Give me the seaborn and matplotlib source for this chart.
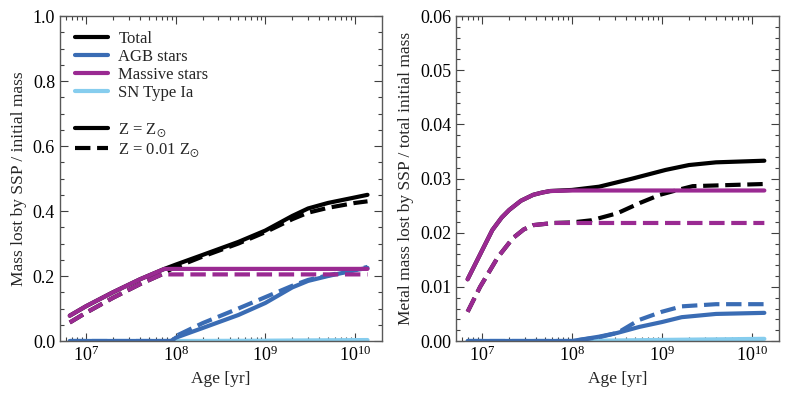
import numpy as np
import pandas as pd
import seaborn as sns
import matplotlib.pyplot as plt
from matplotlib.lines import Line2D
from matplotlib.ticker import MultipleLocator

# ---- left panel: total mass lost ----
m_age_sol = [6.6e6, 1e7, 2e7, 4e7, 7.5e7, 1e8, 1e9, 1.38e10]
m_val_sol = [0.078, 0.107, 0.15, 0.19, 0.222, 0.222, 0.222, 0.222]
m_age_low = [6.6e6, 1e7, 2e7, 4e7, 7e7, 1e8, 1e9, 1.38e10]
m_val_low = [0.057, 0.087, 0.133, 0.175, 0.205, 0.205, 0.205, 0.205]

t_age_sol = [6.6e6, 1e7, 2e7, 4e7, 7.5e7, 1e8, 2e8, 5e8, 1e9, 2e9, 3e9, 5e9, 1e10, 1.38e10]
t_val_sol = [0.078, 0.107, 0.15, 0.19, 0.222, 0.235, 0.265, 0.305, 0.34, 0.385, 0.408, 0.425, 0.442, 0.45]
t_age_low = [6.6e6, 1e7, 2e7, 4e7, 7e7, 9e7, 2e8, 5e8, 1e9, 2e9, 3e9, 5e9, 1e10, 1.38e10]
t_val_low = [0.057, 0.087, 0.133, 0.175, 0.205, 0.222, 0.26, 0.3, 0.335, 0.375, 0.395, 0.41, 0.425, 0.43]

a_age = [6.6e6, 9e7, 1e8, 2e8, 5e8, 1e9, 2e9, 3e9, 5e9, 1e10, 1.38e10]
a_val_sol = [0.0, 0.0, 0.01, 0.04, 0.08, 0.117, 0.165, 0.185, 0.2, 0.218, 0.225]
a_val_low = [0.0, 0.0, 0.015, 0.055, 0.1, 0.135, 0.17, 0.188, 0.202, 0.219, 0.228]

s_age = [6.6e6, 1e8, 1e9, 1.38e10]
s_val = [0.0, 0.0, 0.001, 0.003]

# ---- right panel: metal mass lost ----
zm_age_sol = [6.9e6, 1.3e7, 1.65e7, 2e7, 2.7e7, 3.7e7, 4.6e7, 5.7e7, 1e8, 1e9, 1.38e10]
zm_val_sol = [0.0114, 0.0205, 0.0228, 0.0242, 0.0259, 0.027, 0.0274, 0.0277, 0.0278, 0.0278, 0.0278]
zm_age_low = [6.9e6, 9.5e6, 1.5e7, 2.2e7, 2.9e7, 3.7e7, 6.3e7, 1e9, 1.38e10]
zm_val_low = [0.0054, 0.01, 0.0155, 0.019, 0.0206, 0.0214, 0.0218, 0.0218, 0.0218]

zt_age_sol = [6.9e6, 1.3e7, 1.65e7, 2e7, 2.7e7, 3.7e7, 4.6e7, 5.7e7, 1e8, 2e8, 4.7e8, 1.1e9, 2e9, 4e9, 1.38e10]
zt_val_sol = [0.0114, 0.0205, 0.0228, 0.0242, 0.0259, 0.027, 0.0274, 0.0277, 0.0279, 0.0285, 0.030, 0.0316, 0.0325, 0.033, 0.0333]
zt_age_low = [6.9e6, 9.5e6, 1.5e7, 2.2e7, 2.9e7, 3.7e7, 6.3e7, 1e8, 1.65e8, 3.2e8, 5.7e8, 9.5e8, 1.5e9, 2.2e9, 1.38e10]
zt_val_low = [0.0054, 0.01, 0.0155, 0.019, 0.0206, 0.0214, 0.0218, 0.0219, 0.0223, 0.0236, 0.0255, 0.027, 0.0279, 0.0286, 0.029]

za_age = [6.9e6, 1e8, 2e8, 3.2e8, 5.6e8, 1e9, 1.66e9, 4e9, 1.38e10]
za_val_sol = [0.0, 0.0, 0.0008, 0.0015, 0.0026, 0.0035, 0.0044, 0.005, 0.0052]
za_val_low = [0.0, 0.0, 0.0007, 0.0015, 0.0039, 0.0054, 0.0064, 0.0068, 0.0068]

zs_age = [6.9e6, 1e8, 1e9, 1.38e10]
zs_val = [0.0, 0.0, 0.0002, 0.0004]

c_total = 'black'
c_agb = '#3a6cb4'
c_mass = '#9a2a92'
c_snia = '#86cdee'

sns.set_style('ticks')
plt.rcParams['font.family'] = ['Liberation Serif', 'DejaVu Serif']
plt.rcParams['mathtext.fontset'] = 'stix'
plt.rcParams['xtick.direction'] = 'in'
plt.rcParams['ytick.direction'] = 'in'
plt.rcParams['xtick.top'] = True
plt.rcParams['ytick.right'] = True

fig = plt.figure(figsize=(7.89, 3.94), dpi=100)
ax1 = fig.add_axes([0.076, 0.1345, 0.408, 0.8245])
ax2 = fig.add_axes([0.578, 0.1345, 0.409, 0.8245])


def draw(ax, series):
    for age, val, col, ls in series:
        df = pd.DataFrame({'age': age, 'val': val})
        sns.lineplot(data=df, x='age', y='val', ax=ax, color=col, lw=3,
                     linestyle=ls, estimator=None, sort=False)


draw(ax1, [
    (s_age, s_val, c_snia, '-'),
    (t_age_sol, t_val_sol, c_total, '-'),
    (t_age_low, t_val_low, c_total, '--'),
    (a_age, a_val_low, c_agb, '--'),
    (a_age, a_val_sol, c_agb, '-'),
    (m_age_low, m_val_low, c_mass, '--'),
    (m_age_sol, m_val_sol, c_mass, '-'),
])
draw(ax2, [
    (zs_age, zs_val, c_snia, '-'),
    (zt_age_sol, zt_val_sol, c_total, '-'),
    (zt_age_low, zt_val_low, c_total, '--'),
    (za_age, za_val_low, c_agb, '--'),
    (za_age, za_val_sol, c_agb, '-'),
    (zm_age_low, zm_val_low, c_mass, '--'),
    (zm_age_sol, zm_val_sol, c_mass, '-'),
])

for ax in (ax1, ax2):
    ax.set_xscale('log')
    ax.set_xlim(10 ** 6.71, 10 ** 10.3)
    ax.set_xlabel('Age [yr]', fontsize=12.5)
    ax.tick_params(which='major', length=6, width=0.8, labelsize=13, colors='0.25', labelcolor='black')
    ax.tick_params(which='minor', length=3, width=0.8, colors='0.25')
    for sp in ax.spines.values():
        sp.set_color('0.35')
        sp.set_linewidth(1.0)

ax1.set_ylim(0, 1.0)
ax1.yaxis.set_major_locator(MultipleLocator(0.2))
ax1.yaxis.set_minor_locator(MultipleLocator(0.05))
ax1.set_ylabel('Mass lost by SSP / initial mass', fontsize=12.5)

ax2.set_ylim(0, 0.06)
ax2.yaxis.set_major_locator(MultipleLocator(0.01))
ax2.yaxis.set_minor_locator(MultipleLocator(0.002))
ax2.set_ylabel('Metal mass lost by SSP / total initial mass', fontsize=12.5)

handles = [
    Line2D([], [], color=c_total, lw=3),
    Line2D([], [], color=c_agb, lw=3),
    Line2D([], [], color=c_mass, lw=3),
    Line2D([], [], color=c_snia, lw=3),
    Line2D([], [], color='none'),
    Line2D([], [], color='black', lw=3),
    Line2D([], [], color='black', lw=3, linestyle='--'),
]
labels = ['Total', 'AGB stars', 'Massive stars', 'SN Type Ia', '',
          r'Z = Z$_{\odot}$', r'Z = 0.01 Z$_{\odot}$']
ax1.legend(handles, labels, loc='upper left', frameon=False, fontsize=12,
           handlelength=2.0, handletextpad=0.6, labelspacing=0.12,
           borderaxespad=0.5)

fig.savefig('out.png', dpi=100)
